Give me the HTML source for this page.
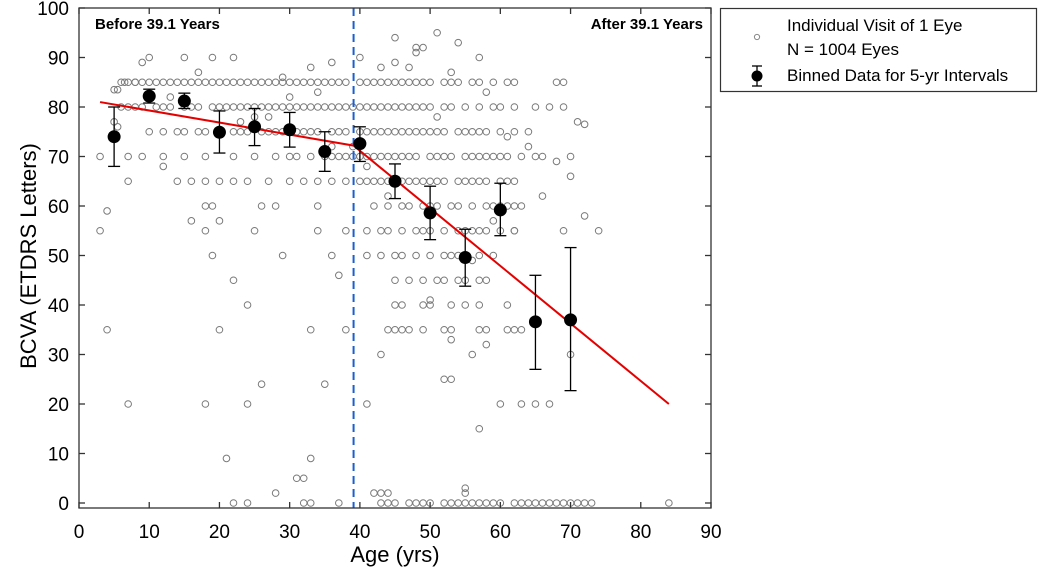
<!DOCTYPE html>
<html><head><meta charset="utf-8"><style>
html,body{margin:0;padding:0;background:#fff;}
svg{display:block;font-family:"Liberation Sans",Arial,sans-serif;}
</style></head><body>
<svg id="chart" width="1050" height="573" viewBox="0 0 1050 573" xmlns="http://www.w3.org/2000/svg">
<g id="scatter"></g>
<g id="fit"></g>
<g id="binned"></g>
<g id="axes"></g>
<text x="95" y="29" font-size="15" font-weight="bold">Before 39.1 Years</text>
<text x="703" y="29" font-size="15" font-weight="bold" text-anchor="end">After 39.1 Years</text>
<text x="395" y="562" font-size="22" text-anchor="middle">Age (yrs)</text>
<text transform="translate(36,256) rotate(-90)" font-size="22" text-anchor="middle">BCVA (ETDRS Letters)</text>
<g>
<rect x="720.5" y="8.5" width="316" height="83" fill="#fff" stroke="#333" stroke-width="1.2"/>
<circle cx="757" cy="37" r="2.6" fill="none" stroke="#888" stroke-width="1"/>
<g>
<line x1="757" y1="66" x2="757" y2="86" stroke="#000" stroke-width="1.3"/>
<line x1="752" y1="66" x2="762" y2="66" stroke="#000" stroke-width="1.3"/>
<line x1="752" y1="86" x2="762" y2="86" stroke="#000" stroke-width="1.3"/>
<circle cx="757" cy="76" r="5.5" fill="#000"/>
</g>
<text x="787" y="31" font-size="17">Individual Visit of 1 Eye</text>
<text x="787" y="55" font-size="17">N = 1004 Eyes</text>
<text x="787" y="81" font-size="17">Binned Data for 5-yr Intervals</text>
</g>
</svg>
<script>
const row85Ages=[6,6.5,7,8,9,10,11,12,13,14,15,16,17,18,19,20,21,22,23,24,25,26,27,28,29,30,31,32,33,34,35,36,37,38,40,41,42,43,44,45,46,47,48,49,50,52,53,54,56,57,59,61,62,68,69];
const row80Ages=[6,7,8,9,11,12,13,15,16,17,19,20,21,22,23,24,25,26,27,28,29,30,31,32,33,34,35,36,37,38,39,40,41,42,43,44,45,46,47,48,49,50,52,53,55,57,59,60,62,65,67,69];
const row75Ages=[10,12,14,15,17,18,20,22,23,24,26,27,28,29,30,31,32,33,34,36,37,38,40,41,42,43,44,45,46,47,48,49,50,51,52,54,55,56,57,58,60,62,64];
const row70Ages=[3,7,9,12,15,18,22,25,28,30,31,33,35,36,37,38,39,40,41,42,43,44,45,46,47,48,50,51,52,53,55,56,57,58,59,60,61,63,65,66,70];
const row65Ages=[7,14,16,18,20,22,24,27,30,32,34,36,38,40,41,42,43,44,45,46,47,48,49,50,51,52,54,55,56,57,58,60,61,62];
const row60Ages=[18,19,26,34,42,44,46,47,49,50,51,53,54,56,58,59,60,61,62,63];
const row55Ages=[18,25,34,38,41,43,44,46,48,49,50,52,54,55,56,57,58,60,62,74];
const row50Ages=[19,29,36,41,43,45,46,48,50,52,53,54,55,57,59];
const row45Ages=[22,45,47,49,51,52,54,55,57,58];
const row40Ages=[24,45,49,50,53,55,57,61];
const row35Ages=[4,20,33,38,44,45,46,47,49,52,53,57,58,61,62];
const row20Ages=[7,18,24,41,60,63,65,67];
const row0Ages=[22,24,32,33,37,43,44,45,47,48,49,50,52,53,54,55,56,57,58,59,60,62,63,64,65,66,67,68,69,70,71,72,73,84];
const rowLevels=[85,80,75,70,65,60,55,50,45,40,35,20,0];
const otherAges=[4,3,5,5.5,9,10,15,19,22,29,33,36,40,43,45,48,51,45,53,57,49,5,5.5,8,21,33,31,32,28,42,43,44,55,55,57,52,53,53,56,58,63,70,70,72,68,71,72,43,26,35,46,50,56,59,61,66,69,62,28,37,20,13,17,27,34,39,47,51,58,12,25,44,54,64,16,23,30,41,48,36];
const otherBcva=[59,55,83.5,83.5,89,90,90,90,90,86,88,89,90,88,94,91,95,89,87,90,92,77,76,85,9,9,5,5,2,2,2,2,2,3,15,25,25,33,30,32,35,30,66,58,69,77,76.5,30,24,24,40,41,49,57,74,62,55,55,60,46,57,82,87,78,83,72,88,78,83,68,78,62,93,72,57,77,82,68,92,72,73];
const binAges=[5,10,15,20,25,30,35,40,45,50,55,60,65,70];
const binMeans=[74,82.2,81.2,74.9,76,75.4,71,72.6,65,58.6,49.6,59.2,36.6,37];
const binLow=[68,80.8,79.7,70.7,72.2,71.9,67,69,61.5,53.2,43.8,54,27,22.7];
const binHigh=[80,83.6,82.8,79.2,79.7,78.9,75,76,68.5,64,55.3,64.6,46,51.6];
const fitAges=[3,39.1,84];
const fitBcva=[81,72.2,20];
const breakAge=39.1;
const xTicks=[0,10,20,30,40,50,60,70,80,90];
const yTicks=[0,10,20,30,40,50,60,70,80,90,100];

const NS="http://www.w3.org/2000/svg";
const X0=79,X1=711,YT=8,YB=508;
function sx(v){return X0+(v/90)*(X1-X0);}
function sy(v){return 503-v*4.95;}
function mk(tag,attrs,parent){const e=document.createElementNS(NS,tag);for(const k in attrs)e.setAttribute(k,attrs[k]);parent.appendChild(e);return e;}

const sc=document.getElementById('scatter');
function dot(a,v){const c=mk('circle',{cx:sx(a),cy:sy(v),r:3.3,fill:'none',stroke:'#7a7a7a','stroke-width':1},sc);

}
const rows=[row85Ages,row80Ages,row75Ages,row70Ages,row65Ages,row60Ages,row55Ages,row50Ages,row45Ages,row40Ages,row35Ages,row20Ages,row0Ages];
rows.forEach((r,i)=>r.forEach(a=>dot(a,rowLevels[i])));
otherAges.forEach((a,i)=>dot(a,otherBcva[i]));

const fit=document.getElementById('fit');
const vl=mk('line',{x1:sx(breakAge),x2:sx(breakAge),y1:YT,y2:YB,stroke:'#1a5fd0','stroke-width':2,'stroke-dasharray':'8,5'},fit);


const pl=mk('polyline',{points:fitAges.map((a,i)=>sx(a)+','+sy(fitBcva[i])).join(' '),fill:'none',stroke:'#e50000','stroke-width':2},fit);



const bn=document.getElementById('binned');
binAges.forEach((a,i)=>{
  const g=mk('g',{},bn);
  
  
  const x=sx(a);
  mk('line',{x1:x,x2:x,y1:sy(binLow[i]),y2:sy(binHigh[i]),stroke:'#000','stroke-width':1.3},g);
  mk('line',{x1:x-6,x2:x+6,y1:sy(binLow[i]),y2:sy(binLow[i]),stroke:'#000','stroke-width':1.3},g);
  mk('line',{x1:x-6,x2:x+6,y1:sy(binHigh[i]),y2:sy(binHigh[i]),stroke:'#000','stroke-width':1.3},g);
  mk('circle',{cx:x,cy:sy(binMeans[i]),r:6.5,fill:'#000'},g);
});

const ax=document.getElementById('axes');
const fr=mk('rect',{x:X0,y:YT,width:X1-X0,height:YB-YT,fill:'none',stroke:'#333','stroke-width':1.3},ax);


xTicks.forEach(t=>{
  const x=sx(t);
  mk('line',{x1:x,x2:x,y1:YB,y2:YB-6,stroke:'#333','stroke-width':1.3},ax);
  mk('line',{x1:x,x2:x,y1:YT,y2:YT+6,stroke:'#333','stroke-width':1.3},ax);
  const tx=mk('text',{x:x,y:538,'font-size':19,'text-anchor':'middle'},ax);
  tx.textContent=t;
  
  
});
yTicks.forEach(t=>{
  const y=sy(t);
  mk('line',{x1:X0,x2:X0+6,y1:y,y2:y,stroke:'#333','stroke-width':1.3},ax);
  mk('line',{x1:X1,x2:X1-6,y1:y,y2:y,stroke:'#333','stroke-width':1.3},ax);
  const tx=mk('text',{x:69,y:y+7,'font-size':19,'text-anchor':'end'},ax);
  tx.textContent=t;
  
  
});
</script>
</body></html>
